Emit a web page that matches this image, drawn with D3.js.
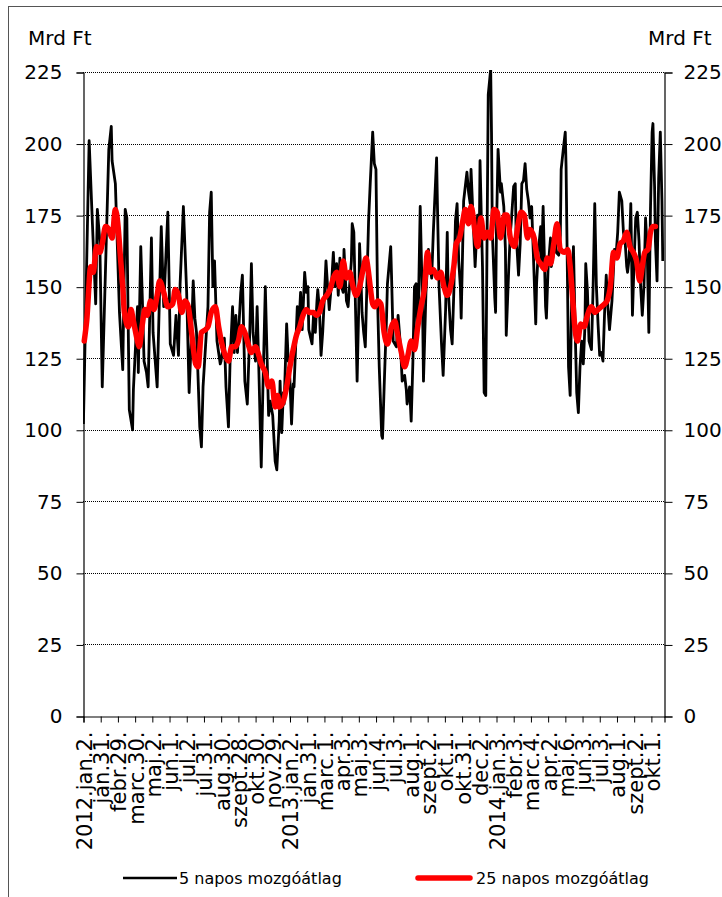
<!DOCTYPE html>
<html><head><meta charset="utf-8">
<script src="https://cdn.jsdelivr.net/npm/d3@7"></script>
<style>
html,body{margin:0;padding:0;background:#fff;}
svg{display:block;font-family:"DejaVu Sans",Verdana,sans-serif;}
</style></head>
<body><svg id="c" width="722" height="897"></svg>
<script>
// ---- data ----
const tickLabels = ["2012.jan.2.","jan.31.","febr.29.","marc.30.","maj.2.","jun.1.","jul.2.","jul.31.","aug.30.","szept.28.","okt.30.","nov.29.","2013.jan.2.","jan.31.","marc.1.","apr.3.","maj.3.","jun.4.","jul.3.","aug.1.","szept.2.","okt.1.","okt.31.","dec.2.","2014.jan.3.","febr.3.","marc.4.","apr.2.","maj.6.","jun.3.","jul.3.","aug.1.","szept.2.","okt.1."];
const daysPerLabel = 21;
const dayCount = 709;
const yTicks = [0,25,50,75,100,125,150,175,200,225];
const unitLabel = "Mrd Ft";
const seriesNames = ["5 napos mozgóátlag","25 napos mozgóátlag"];
// [trading-day index, value]
const ma5 = [[0,102],[7,201],[11,172],[15,144],[17,177],[20,166],[23,115],[31,198],[34,206],[35,194],[39,186],[44,141],[48,121],[51,177],[53,174],[56,107],[60,100],[61,114],[66,143],[67,120],[70,164],[72,145],[74,124],[77,120],[79,115],[83,167],[85,134],[90,115],[95,171],[98,143],[103,176],[106,130],[110,126],[113,140],[116,126],[118,151],[122,178],[126,148],[129,113],[132,134],[134,152],[136,139],[138,134],[142,101],[144,94],[146,115],[149,129],[152,143],[154,176],[156,183],[158,150],[160,159],[163,131],[167,123],[168,124],[172,132],[174,115],[177,101],[179,124],[182,143],[184,127],[186,140],[188,127],[192,148],[194,154],[197,117],[200,109],[203,134],[205,158],[207,134],[210,124],[212,143],[214,122],[217,87],[219,114],[222,150],[224,127],[226,105],[228,110],[231,105],[234,89],[236,86],[239,103],[240,117],[242,99],[244,113],[245,109],[248,137],[250,124],[251,125],[254,102],[256,116],[257,115],[261,143],[263,136],[265,148],[267,135],[270,155],[272,148],[274,150],[275,135],[279,130],[281,141],[283,134],[285,145],[286,149],[288,142],[290,126],[292,134],[294,146],[296,159],[298,150],[300,142],[303,152],[305,162],[307,150],[309,158],[311,147],[313,160],[315,150],[317,148],[318,163],[321,145],[323,143],[325,151],[327,159],[328,172],[330,169],[332,143],[334,117],[336,143],[337,165],[339,150],[340,141],[342,134],[344,129],[346,151],[348,173],[350,186],[353,204],[355,193],[357,191],[359,145],[361,122],[364,98],[365,97],[367,115],[370,140],[371,151],[375,164],[376,154],[378,131],[382,129],[384,140],[387,129],[389,117],[392,119],[394,114],[395,109],[398,115],[400,103],[402,123],[404,150],[406,151],[407,134],[409,146],[411,178],[414,140],[415,117],[418,148],[421,163],[425,153],[427,169],[431,195],[432,179],[434,150],[437,130],[439,119],[442,142],[444,169],[445,150],[448,135],[450,130],[452,148],[454,173],[456,179],[458,159],[460,150],[461,139],[464,180],[466,185],[468,190],[470,183],[472,179],[473,191],[477,164],[478,157],[481,175],[483,164],[484,194],[487,157],[489,113],[491,112],[492,146],[494,217],[497,226],[498,204],[499,169],[502,146],[503,141],[504,169],[506,198],[509,183],[510,186],[513,178],[515,163],[516,133],[519,156],[521,169],[522,172],[525,185],[527,186],[528,169],[531,154],[533,165],[535,186],[537,187],[539,193],[541,184],[543,180],[545,174],[547,178],[549,162],[552,137],[553,151],[555,162],[558,171],[559,157],[561,178],[564,143],[565,139],[567,156],[570,167],[571,157],[574,162],[576,165],[577,162],[580,161],[582,168],[583,191],[586,199],[588,204],[589,192],[592,122],[594,112],[596,150],[598,164],[600,136],[602,113],[604,106],[606,122],[608,131],[610,123],[612,136],[613,158],[615,149],[617,131],[620,128],[622,150],[624,179],[626,150],[628,137],[630,126],[632,127],[634,124],[636,141],[638,154],[640,143],[642,135],[645,145],[648,163],[650,161],[652,169],[654,183],[657,180],[659,169],[661,166],[663,157],[664,155],[666,160],[668,179],[670,140],[672,159],[674,174],[676,176],[678,166],[680,150],[682,140],[684,150],[686,174],[688,163],[690,134],[692,177],[694,204],[695,207],[697,185],[698,166],[700,152],[702,188],[704,204],[706,180],[707,159]];
const ma25 = [[1,131],[4,138],[9,157],[12,155],[16,164],[20,162],[23,165],[27,171],[31,170],[35,167],[39,177],[42,172],[45,161],[48,150],[50,141],[55,136],[58,142],[61,138],[66,131],[68,129],[72,137],[75,142],[78,140],[82,145],[86,142],[90,147],[93,152],[98,148],[103,143],[109,144],[112,149],[116,147],[120,141],[124,145],[128,143],[132,134],[137,123],[140,122],[144,134],[149,135],[152,136],[156,141],[161,143],[165,136],[169,130],[173,126],[177,124],[181,129],[185,129],[189,131],[193,136],[197,134],[201,130],[205,127],[210,129],[214,126],[217,123],[222,120],[226,115],[230,117],[234,108],[237,112],[239,108],[244,110],[248,115],[252,122],[256,128],[260,133],[264,136],[268,140],[272,142],[276,141],[281,141],[284,140],[288,141],[292,145],[297,147],[301,149],[305,153],[309,155],[313,150],[317,159],[321,153],[325,155],[329,150],[333,147],[337,150],[342,157],[345,160],[347,157],[350,150],[353,144],[356,143],[359,145],[363,144],[367,134],[371,130],[376,136],[380,138],[383,134],[388,127],[392,122],[396,126],[400,131],[404,128],[408,136],[412,143],[416,149],[420,162],[423,155],[427,156],[432,153],[436,155],[440,150],[444,147],[448,150],[452,157],[455,165],[459,167],[463,173],[466,177],[470,172],[473,178],[478,169],[481,164],[485,174],[489,167],[493,169],[497,167],[501,177],[505,176],[509,167],[514,175],[517,175],[521,167],[526,164],[530,171],[534,176],[538,175],[542,167],[545,170],[550,167],[554,160],[558,158],[563,156],[566,160],[570,158],[574,165],[578,172],[582,163],[587,162],[591,163],[594,157],[597,146],[600,135],[603,131],[607,137],[611,136],[615,140],[620,143],[624,141],[628,142],[632,143],[636,144],[639,145],[643,150],[647,162],[651,160],[655,165],[659,166],[663,169],[667,164],[671,162],[675,159],[679,152],[682,157],[685,162],[689,163],[692,169],[695,171],[698,171]];

// ---- layout ----
const svg = d3.select("#c");
const L = 83, R = 664, T = 72, B = 716;
const x = d3.scaleLinear().domain([-0.5, dayCount - 0.5]).range([L, R]);
const y = d3.scaleLinear().domain([0, 225]).range([B, T]);

// outer frame
svg.append("rect").attr("x",8.5).attr("y",6.5).attr("width",730).attr("height",910)
  .attr("fill","none").attr("stroke","#555").attr("stroke-width",1);

// gridlines
svg.append("g").selectAll("line").data(yTicks.filter(d=>d>0)).join("line")
  .attr("x1",L).attr("x2",R).attr("y1",d=>Math.round(y(d))+0.5).attr("y2",d=>Math.round(y(d))+0.5)
  .attr("stroke","#000").attr("stroke-width",1).attr("stroke-dasharray","1,1");

// left axis
const yl = svg.append("g").attr("transform",`translate(${L+0.5},0.5)`)
  .call(d3.axisLeft(y).tickValues(yTicks).tickSize(7).tickPadding(14).tickFormat(d3.format("d")));
// right axis
const yr = svg.append("g").attr("transform",`translate(${R+0.5},0.5)`)
  .call(d3.axisRight(y).tickValues(yTicks).tickSize(8).tickPadding(11).tickFormat(d3.format("d")));
[yl,yr].forEach(g=>{
  g.select(".domain").attr("stroke","#000").attr("stroke-width",1.2);
  g.selectAll(".tick line").attr("stroke","#000");
  g.selectAll(".tick text").attr("font-size",20).attr("font-family","DejaVu Sans").attr("fill","#000");
});

// x axis
const tickVals = tickLabels.map((d,i)=>i*daysPerLabel);
const xa = svg.append("g").attr("transform",`translate(0.5,${B+0.5})`)
  .call(d3.axisBottom(x).tickValues(tickVals).tickSize(6).tickFormat((d,i)=>tickLabels[i]));
xa.select(".domain").attr("stroke","#000").attr("stroke-width",1.2);
xa.selectAll(".tick line").attr("stroke","#000").attr("transform",`translate(${-x(0)+x(-0.5)},0)`);
xa.selectAll(".tick text")
  .attr("font-size",21).attr("font-family","DejaVu Sans").attr("fill","#000")
  .attr("text-anchor","end").attr("transform","rotate(-90)")
  .attr("x",-15).attr("y",0).attr("dy","0.36em");

// unit labels
svg.append("text").attr("x",28).attr("y",45).attr("font-size",20).text(unitLabel);
svg.append("text").attr("x",648).attr("y",45).attr("font-size",20).text(unitLabel);

// series
const lineGen = d3.line().x(d=>x(d[0])).y(d=>y(d[1]));
svg.append("clipPath").attr("id","pc").append("rect")
  .attr("x",L).attr("y",T-2).attr("width",R-L).attr("height",B-T+2);
svg.append("path").datum(ma5).attr("d",lineGen).attr("fill","none")
  .attr("stroke","#000").attr("stroke-width",2.8).attr("stroke-linejoin","round").attr("clip-path","url(#pc)");
svg.append("path").datum(ma25).attr("d",lineGen.curve(d3.curveMonotoneX)).attr("fill","none")
  .attr("stroke","#ff0000").attr("stroke-width",5.5).attr("stroke-linejoin","round").attr("stroke-linecap","round");

// legend
const lg = svg.append("g");
lg.append("line").attr("x1",123).attr("x2",177).attr("y1",878).attr("y2",878).attr("stroke","#000").attr("stroke-width",2.5);
lg.append("text").attr("x",179).attr("y",878).attr("dy","0.36em").attr("font-size",16).text(seriesNames[0]);
lg.append("line").attr("x1",418).attr("x2",470).attr("y1",878).attr("y2",878).attr("stroke","#ff0000").attr("stroke-width",5.5).attr("stroke-linecap","round");
lg.append("text").attr("x",476).attr("y",878).attr("dy","0.36em").attr("font-size",16).text(seriesNames[1]);
</script></body></html>
